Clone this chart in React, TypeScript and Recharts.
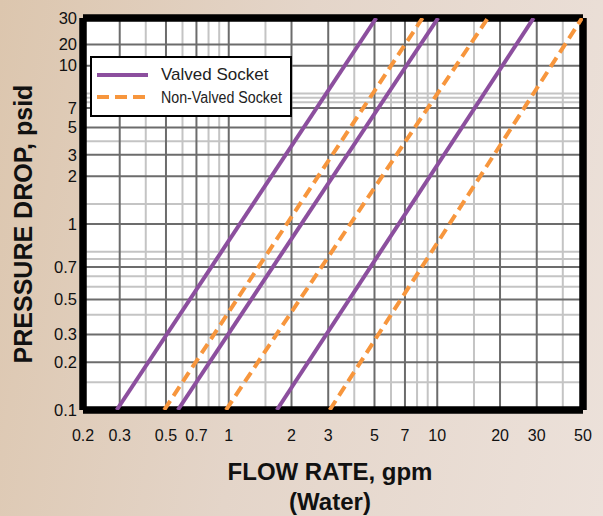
import React from "react";
import {
  LineChart,
  Line,
  XAxis,
  YAxis,
  CartesianGrid,
  Legend,
} from "recharts";

// ── Data ──────────────────────────────────────────────────────

// each curve is a straight line on the log-log paper, read where it
// enters at the bottom (0.1 psid) and leaves at the top (30 psid)
const pressureEnds = [0.1, 30];

const valvedSmall  = [0.29, 5.1];
const valvedMid    = [0.57, 10.1];
const valvedLarge  = [1.7, 29];

const nonValvedSmall = [0.49, 8.5];
const nonValvedMid   = [0.97, 17.5];
const nonValvedLarge = [3.05, 49.5];

// flow axis
const flowDomain = [0.2, 50];
const flowTicks = [0.2, 0.3, 0.5, 0.7, 1, 2, 3, 5, 7, 10, 20, 30, 50];
const flowMinor = [0.4, 0.6, 0.8, 0.9, 1.5, 4, 6, 8, 9, 15, 40];

// pressure axis: the printed labels sit on these lines of the log grid
const dropDomain = [0.1, 30];
const dropTickLabels = ["0.1", "0.2", "0.3", "0.5", "0.7", "1", "2", "3", "5", "7", "10", "20", "30"];
const dropTickAt     = [0.1, 0.2, 0.3, 0.5, 0.8, 1.5, 3, 4.1, 6.1, 8.1, 15, 20.4, 30];
const dropMinor      = [0.15, 0.4, 0.6, 0.7, 0.9, 1, 2, 5, 8.8, 9.4, 10];

const toSeries = (flows: number[]) =>
  flows.map((flow, i) => ({ flow, dp: pressureEnds[i] }));

// inner dark lines only; the plot edges get the black frame
const inside = (vals: number[], dom: number[]) =>
  vals.filter((v) => v > dom[0] && v < dom[1]);

const PURPLE = "#8c4f9e";
const ORANGE = "#f7963d";
const FONT = "'Liberation Sans', Arial, sans-serif";

// ── Legend box ────────────────────────────────────────────────

function LegendBox() {
  return (
    <div
      style={{
        boxSizing: "border-box",
        width: 202,
        height: 61,
        border: "2px solid #000",
        background: "#fff",
        position: "relative",
        fontFamily: FONT,
        color: "#222",
      }}
    >
      <svg width={60} height={61} style={{ position: "absolute", left: 0, top: -2 }}>
        <line x1={5} x2={56} y1={19} y2={19} stroke={PURPLE} strokeWidth={4} />
        <line x1={5} x2={56} y1={41} y2={41} stroke={ORANGE} strokeWidth={4} strokeDasharray="12 6" />
      </svg>
      <div style={{ position: "absolute", left: 69, top: 6, fontSize: 17, lineHeight: "22px", whiteSpace: "nowrap" }}>
        Valved Socket
      </div>
      <div
        style={{
          position: "absolute",
          left: 69,
          top: 29,
          fontSize: 16,
          lineHeight: "22px",
          whiteSpace: "nowrap",
          transform: "scaleX(0.89)",
          transformOrigin: "left center",
        }}
      >
        Non-Valved Socket
      </div>
    </div>
  );
}

// ── Chart ─────────────────────────────────────────────────────

export default function App() {
  const lines = [
    { key: "v1", data: toSeries(valvedSmall),    color: PURPLE, dash: undefined },
    { key: "v2", data: toSeries(valvedMid),      color: PURPLE, dash: undefined },
    { key: "v3", data: toSeries(valvedLarge),    color: PURPLE, dash: undefined },
    { key: "n1", data: toSeries(nonValvedSmall), color: ORANGE, dash: "11 6" },
    { key: "n2", data: toSeries(nonValvedMid),   color: ORANGE, dash: "11 6" },
    { key: "n3", data: toSeries(nonValvedLarge), color: ORANGE, dash: "11 6" },
  ];

  return (
    <div
      style={{
        position: "fixed",
        left: 0,
        top: 0,
        width: 603,
        height: 516,
        overflow: "hidden",
        background: "linear-gradient(100deg, #dcc6ae 0%, #e4d5c9 45%, #ece1da 100%)",
        fontFamily: FONT,
      }}
    >
      <LineChart width={603} height={516} margin={{ top: 18, right: 20, bottom: 76, left: 0 }}>
        <CartesianGrid
          fill="#fff"
          stroke="#c4c4c4"
          strokeWidth={2}
          verticalValues={flowMinor}
          horizontalValues={dropMinor}
        />
        <CartesianGrid
          stroke="#6c6c6c"
          strokeWidth={2}
          verticalValues={inside(flowTicks, flowDomain)}
          horizontalValues={inside(dropTickAt, dropDomain)}
        />
        <XAxis
          dataKey="flow"
          type="number"
          scale="log"
          domain={flowDomain}
          allowDataOverflow
          ticks={flowTicks}
          interval={0}
          axisLine={false}
          tickLine={false}
          tickSize={0}
          tickMargin={20}
          height={30}
          tick={{ fontSize: 16, fill: "#111", fontFamily: FONT }}
        />
        <YAxis
          dataKey="dp"
          type="number"
          scale="log"
          domain={dropDomain}
          allowDataOverflow
          ticks={dropTickAt}
          tickFormatter={(v: number) => dropTickLabels[dropTickAt.indexOf(v)] ?? ""}
          interval={0}
          axisLine={false}
          tickLine={false}
          tickSize={0}
          tickMargin={6}
          width={83}
          tick={{ fontSize: 16.5, fill: "#111", fontFamily: FONT }}
          label={{
            value: "PRESSURE DROP, psid",
            angle: -90,
            position: "center",
            dx: -18,
            dy: 10,
            style: { fontSize: 25, fontWeight: 700, fill: "#111", fontFamily: FONT, textAnchor: "middle" },
          }}
        />
        {lines.map((l) => (
          <Line
            key={l.key}
            data={l.data}
            dataKey="dp"
            type="linear"
            stroke={l.color}
            strokeWidth={4}
            strokeDasharray={l.dash}
            dot={false}
            activeDot={false}
            isAnimationActive={false}
          />
        ))}
        {/* heavy black frame round the plot; only half of the edge stroke shows */}
        <CartesianGrid
          stroke="#000"
          strokeWidth={7.5}
          verticalValues={flowDomain}
          horizontalValues={dropDomain}
        />
        <Legend
          verticalAlign="middle"
          align="center"
          layout="horizontal"
          wrapperStyle={{ left: 90, top: 56, width: 202, height: 61 }}
          content={() => <LegendBox />}
        />
      </LineChart>

      <div
        style={{
          position: "absolute",
          left: 230,
          top: 457,
          width: 200,
          textAlign: "center",
          fontSize: 24,
          fontWeight: 700,
          lineHeight: "30px",
          color: "#111",
        }}
      >
        <div style={{ whiteSpace: "nowrap", marginLeft: -50, marginRight: -50 }}>FLOW RATE, gpm</div>
        <div>(Water)</div>
      </div>
    </div>
  );
}
